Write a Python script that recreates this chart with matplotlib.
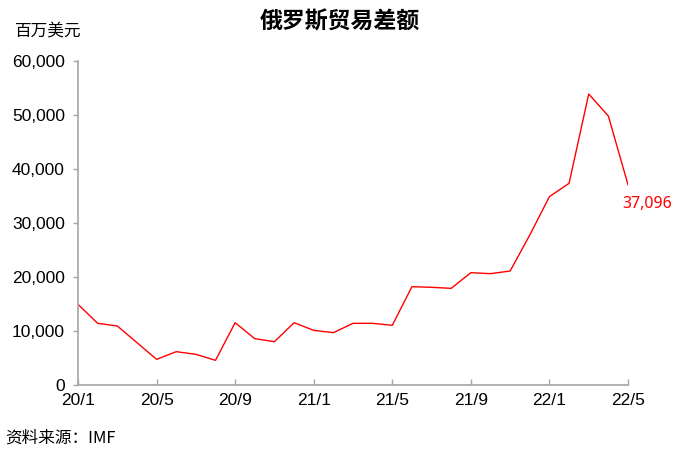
import matplotlib
matplotlib.use("Agg")
import matplotlib.pyplot as plt
from matplotlib.ticker import FuncFormatter

months = ["20/1", "20/2", "20/3", "20/4", "20/5", "20/6", "20/7", "20/8", "20/9", "20/10",
          "20/11", "20/12", "21/1", "21/2", "21/3", "21/4", "21/5", "21/6", "21/7", "21/8",
          "21/9", "21/10", "21/11", "21/12", "22/1", "22/2", "22/3", "22/4", "22/5"]
balance = [14950, 11420, 10930, 7850, 4750, 6170, 5680, 4570, 11540, 8580,
           8020, 11540, 10120, 9690, 11420, 11420, 11050, 18210, 18090, 17900,
           20800, 20620, 21110, 27780, 34880, 37350, 53890, 49810, 37096]
tick_labels = ["20/1", "20/5", "20/9", "21/1", "21/5", "21/9", "22/1", "22/5"]
y_ticks = [0, 10000, 20000, 30000, 40000, 50000, 60000]

cjk = ["Noto Sans CJK SC", "DejaVu Sans"]
latin = ["Liberation Sans", "DejaVu Sans"]

fig = plt.figure(figsize=(6.77, 4.62), dpi=100)
ax = fig.add_axes([78/677, 1-385/462, 550/677, 324/462])

x = list(range(len(balance)))
ax.plot(x, balance, color="#ff0000", lw=1.0)

ax.set_xlim(0, len(balance)-1)
ax.set_ylim(0, 60000)
tick_pos = [months.index(t) for t in tick_labels]
ax.set_xticks(tick_pos)
ax.set_xticklabels(tick_labels, fontfamily=latin, fontsize=12.5)
ax.set_yticks(y_ticks)
ax.yaxis.set_major_formatter(FuncFormatter(lambda v, p: f"{int(v):,}"))
for lab in ax.get_yticklabels():
    lab.set_fontfamily(latin)
    lab.set_fontsize(12.5)

for s in ["top", "right"]:
    ax.spines[s].set_visible(False)
for s in ["left", "bottom"]:
    ax.spines[s].set_color("#a6a6a6")
    ax.spines[s].set_linewidth(1.2)
ax.tick_params(axis="x", direction="in", length=4.5, width=1.0, color="#a6a6a6", pad=6, labelcolor="black")
ax.tick_params(axis="y", direction="out", length=3.5, width=1.0, color="#a6a6a6", pad=6, labelcolor="black")

ax.annotate(f"{balance[-1]:,}", xy=(x[-1], balance[-1]), xytext=(-4, -8),
            textcoords="offset points", ha="left", va="top", color="#ff0000",
            fontsize=11.5, fontfamily=["Noto Sans", "DejaVu Sans"], annotation_clip=False)

fig.text(340/677, 1-22/462, "俄罗斯贸易差额", ha="center", va="center",
         fontsize=16.5, fontweight="bold", fontfamily=cjk)
fig.text(15/677, 1-31/462, "百万美元", ha="left", va="center", fontsize=12, fontfamily=cjk)
fig.text(5/677, 1-438/462, "资料来源：IMF", ha="left", va="center", fontsize=12, fontfamily=cjk)

fig.savefig("out.png", dpi=100)
